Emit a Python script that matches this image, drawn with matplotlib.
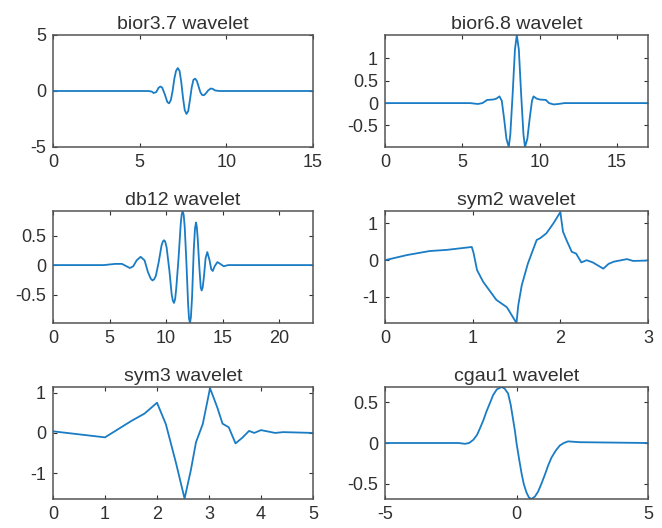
import matplotlib
matplotlib.use("Agg")
import matplotlib.pyplot as plt

plt.rcParams['font.family'] = ['Liberation Sans', 'DejaVu Sans']
plt.rcParams['axes.unicode_minus'] = False

###### wavelet samples #########################################################
bior37_x = [0, 5.5, 5.7, 5.8, 5.95, 6.1, 6.2, 6.3, 6.45, 6.6, 6.7, 6.8, 6.9, 7.0, 7.1,
            7.2, 7.3, 7.4, 7.5, 7.6, 7.7, 7.8, 7.9, 8.0, 8.1, 8.2, 8.3, 8.4, 8.5, 8.6,
            8.7, 8.8, 8.95, 9.1, 9.2, 9.35, 9.6, 15]
bior37_y = [0, 0, -0.05, -0.18, -0.1, 0.3, 0.4, 0.3, -0.3, -1.0, -1.1, -0.8, 0.0, 1.1, 1.8,
            2.05, 1.8, 0.8, -0.6, -1.7, -2.05, -1.8, -0.8, 0.3, 1.0, 1.1, 0.9, 0.4, -0.1, -0.35,
            -0.38, -0.25, 0.05, 0.22, 0.2, 0.05, 0.0, 0]

bior68_x = [0, 5.5, 6.0, 6.3, 6.6, 7.0, 7.2, 7.4, 7.55, 7.7, 7.85, 8.0, 8.1, 8.25, 8.4,
            8.52, 8.65, 8.8, 8.95, 9.05, 9.2, 9.35, 9.5, 9.6, 9.8, 10.0, 10.4, 10.6, 10.9,
            11.2, 11.6, 17]
bior68_y = [0, 0, -0.02, 0.0, 0.07, 0.08, 0.1, 0.15, 0.05, -0.35, -0.8, -0.98, -0.7, 0.2, 1.2,
            1.52, 1.2, 0.2, -0.7, -0.98, -0.8, -0.35, 0.05, 0.15, 0.1, 0.08, 0.07, 0.0, -0.03,
            -0.02, 0.0, 0]

db12_x = [0, 4.5, 5.5, 6.1, 6.5, 6.8, 7.1, 7.4, 7.75, 8.1, 8.4, 8.65, 8.8, 8.95, 9.1, 9.35,
          9.6, 9.72, 9.82, 9.92, 10.05, 10.3, 10.5, 10.6, 10.7, 10.8, 10.9, 11.1, 11.3, 11.38,
          11.47, 11.56, 11.65, 11.8, 11.95, 12.03, 12.12, 12.2, 12.3, 12.45, 12.56, 12.65,
          12.72, 12.8, 12.95, 13.07, 13.15, 13.24, 13.35, 13.5, 13.65, 13.85, 14.0, 14.13,
          14.3, 14.54, 14.8, 15.1, 15.5, 23]
db12_y = [0, 0, 0.02, 0.02, -0.02, -0.05, -0.02, 0.08, 0.14, 0.08, -0.12, -0.23, -0.26, -0.24,
          -0.18, 0.05, 0.33, 0.4, 0.42, 0.4, 0.3, -0.1, -0.5, -0.6, -0.64, -0.58, -0.4, 0.1,
          0.7, 0.85, 0.915, 0.85, 0.65, 0.05, -0.65, -0.9, -0.98, -0.88, -0.55, 0.25, 0.62,
          0.72, 0.65, 0.45, -0.05, -0.38, -0.43, -0.38, -0.2, 0.12, 0.22, 0.08, -0.07, -0.1,
          -0.02, 0.05, 0.02, -0.02, 0.0, 0]

sym2_x = [0, 0.25, 0.51, 0.70, 0.99, 1.01, 1.05, 1.12, 1.27, 1.39, 1.5, 1.52, 1.56, 1.63,
          1.73, 1.77, 1.84, 1.92, 2.0, 2.03, 2.07, 2.13, 2.18, 2.24, 2.30, 2.37, 2.49, 2.55,
          2.61, 2.76, 2.83, 2.98, 3.0]
sym2_y = [0, 0.14, 0.25, 0.28, 0.36, 0.2, -0.27, -0.59, -1.08, -1.28, -1.71, -1.23, -0.68,
          -0.09, 0.55, 0.6, 0.73, 1.0, 1.31, 0.78, 0.55, 0.23, 0.18, -0.06, 0.0, -0.06, -0.23,
          -0.1, -0.04, 0.03, -0.02, -0.01, 0]

sym3_x = [0, 1.0, 1.51, 1.76, 2.0, 2.17, 2.37, 2.53, 2.65, 2.75, 2.88, 3.02, 3.16, 3.26, 3.38,
          3.51, 3.64, 3.77, 3.87, 4.0, 4.27, 4.43, 5.0]
sym3_y = [0.04, -0.11, 0.30, 0.48, 0.75, 0.22, -0.77, -1.63, -0.93, -0.23, 0.22, 1.11, 0.63,
          0.23, 0.14, -0.26, -0.12, 0.05, 0.0, 0.07, 0.0, 0.02, 0.0]

cgau1_x = [-5, -2.2, -1.96, -1.8, -1.64, -1.5, -1.39, -1.26, -1.14, -1.0, -0.89, -0.75, -0.57,
           -0.45, -0.32, -0.22, -0.13, -0.06, 0.0, 0.1, 0.19, 0.28, 0.38, 0.47, 0.57, 0.7,
           0.82, 0.95, 1.08, 1.2, 1.33, 1.5, 1.65, 1.8, 1.96, 2.4, 5]
cgau1_y = [0, 0, -0.01, 0.0, 0.04, 0.1, 0.18, 0.28, 0.39, 0.5, 0.59, 0.66, 0.69, 0.67, 0.61,
           0.47, 0.29, 0.15, 0.0, -0.2, -0.37, -0.51, -0.61, -0.67, -0.69, -0.66, -0.6, -0.5,
           -0.39, -0.28, -0.18, -0.09, -0.03, 0.0, 0.02, 0.01, 0]

titles = ['bior3.7 wavelet', 'bior6.8 wavelet', 'db12 wavelet',
          'sym2 wavelet', 'sym3 wavelet', 'cgau1 wavelet']
series = [(bior37_x, bior37_y), (bior68_x, bior68_y), (db12_x, db12_y),
          (sym2_x, sym2_y), (sym3_x, sym3_y), (cgau1_x, cgau1_y)]
xlims = [(0, 15), (0, 17), (0, 23), (0, 3), (0, 5), (-5, 5)]
ylims = [(-5, 5), (-0.98, 1.52), (-0.98, 0.915), (-1.71, 1.34), (-1.64, 1.14), (-0.69, 0.69)]
xticks = [[0, 5, 10, 15], [0, 5, 10, 15], [0, 5, 10, 15, 20], [0, 1, 2, 3],
          [0, 1, 2, 3, 4, 5], [-5, 0, 5]]
yticks = [[-5, 0, 5], [-0.5, 0, 0.5, 1], [-0.5, 0, 0.5], [-1, 0, 1], [-1, 0, 1],
          [-0.5, 0, 0.5]]

###### layout (pixel boxes of the MATLAB axes) #################################
W, H = 662, 528
cols = [(53, 313), (385, 648)]
rows = [(35, 147), (211, 323), (387, 499)]

fig = plt.figure(figsize=(W / 100, H / 100), dpi=100)
dark = '#303030'
blue = '#1a7cc4'

for k in range(6):
    c0, c1 = cols[k % 2]
    r0, r1 = rows[k // 2]
    ax = fig.add_axes([c0 / W, 1 - r1 / H, (c1 - c0) / W, (r1 - r0) / H])
    x, y = series[k]
    ax.plot(x, y, color=blue, lw=1.3)
    ax.set_xlim(*xlims[k])
    ax.set_ylim(*ylims[k])
    ax.set_xticks(xticks[k])
    ax.set_yticks(yticks[k])
    ax.set_xticklabels([('%g' % v) for v in xticks[k]])
    ax.set_yticklabels([('%g' % v) for v in yticks[k]])
    ax.tick_params(direction='in', length=3, width=0.8, top=True, right=True,
                   colors=dark, labelsize=13, pad=5)
    for s in ax.spines.values():
        s.set_color('#555555')
        s.set_linewidth(1.1)
    ax.set_title(titles[k], fontsize=14, color=dark, pad=4)

fig.savefig('out.png', dpi=100)
